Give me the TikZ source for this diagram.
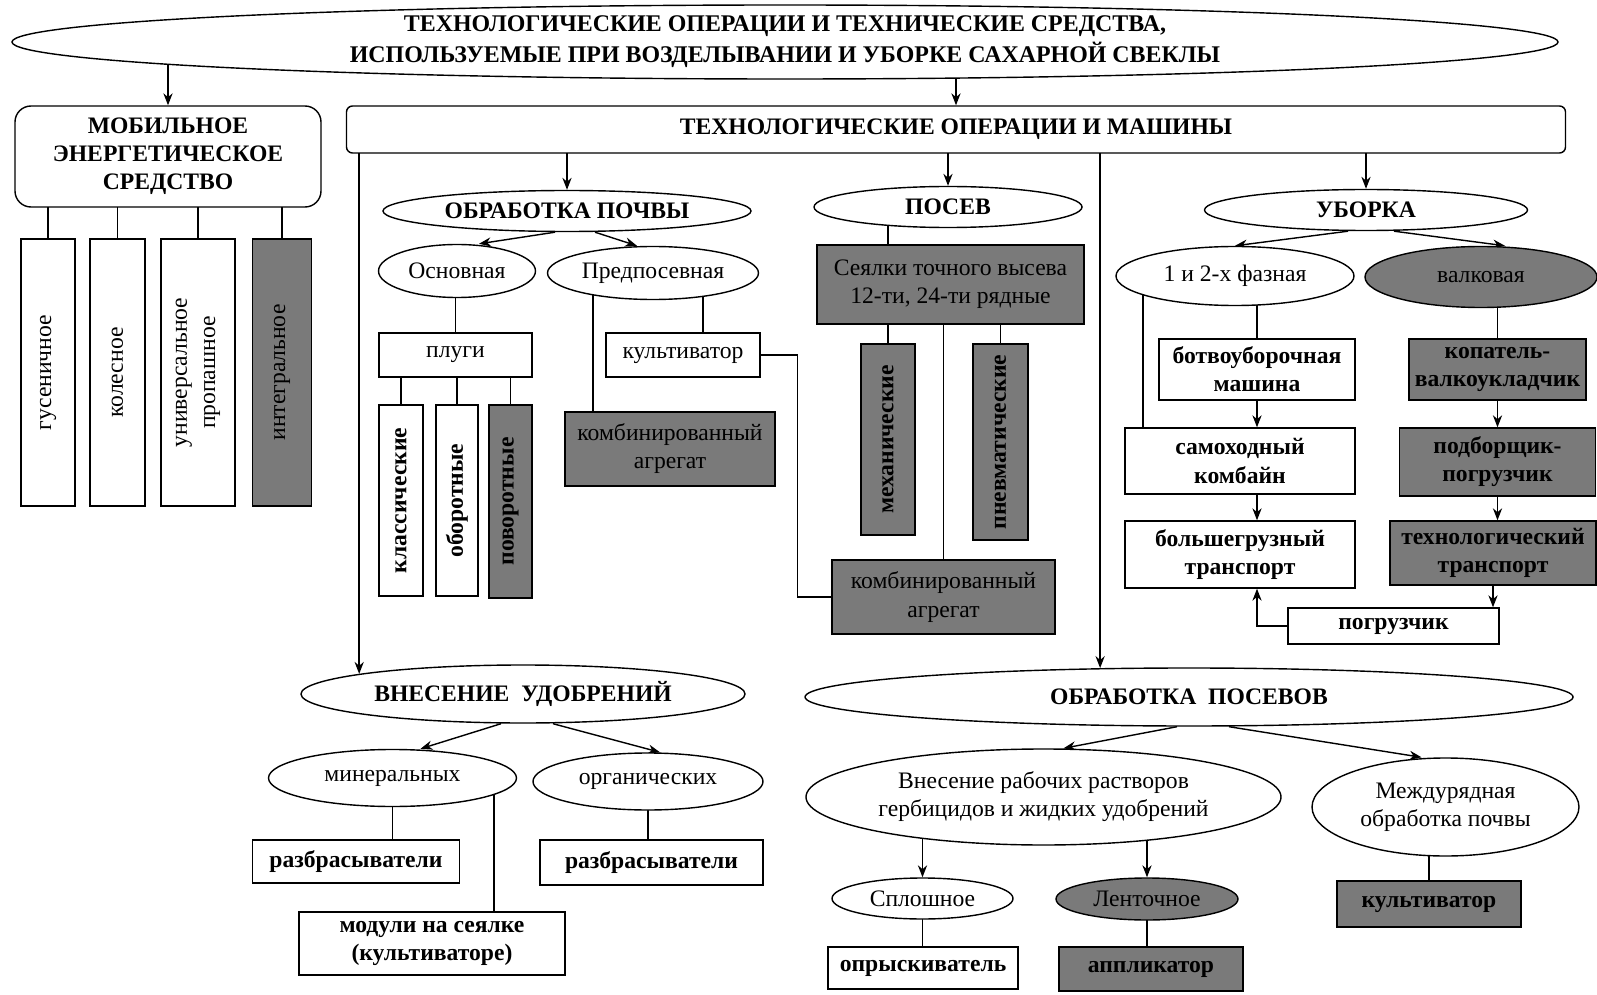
\documentclass[tikz,border=0pt]{standalone}
\usepackage{fontspec}
\setmainfont{Liberation Serif}
\usetikzlibrary{shapes.geometric,backgrounds,arrows.meta}
\definecolor{boxgray}{gray}{0.48}

\begin{document}
\begin{tikzpicture}[x=0.25mm,y=-0.25mm,>={Stealth[length=3mm,width=2.3mm]},
  every node/.style={font=\fontsize{16.8}{20}\selectfont,align=center,inner sep=0pt},
  sz/.style 2 args={minimum width=#1*0.25mm,minimum height=#2*0.25mm},
  box/.style={draw,line width=1pt,fill=white,rectangle},
  oval/.style={draw,line width=1pt,fill=white,ellipse},
  dark/.style={fill=boxgray},
  bf/.style={font=\fontsize{16.8}{20}\selectfont\bfseries},
  link/.style={draw,line width=1pt},
  arr/.style={link,->}]
  \useasboundingbox (0,0) rectangle (1597,995);

  % Title and the two main branches.
  \node[oval,sz={1546}{74},font=\fontsize{17}{22}\selectfont\bfseries] (top) at (785,42)
    {ТЕХНОЛОГИЧЕСКИЕ ОПЕРАЦИИ И ТЕХНИЧЕСКИЕ СРЕДСТВА,\\ИСПОЛЬЗУЕМЫЕ ПРИ ВОЗДЕЛЫВАНИИ И УБОРКЕ САХАРНОЙ СВЕКЛЫ};
  \node[box,bf,rounded corners=4mm,sz={306}{101}] (mes) at (168,156.5)
    {МОБИЛЬНОЕ\\ЭНЕРГЕТИЧЕСКОЕ\\СРЕДСТВО};
  \node[box,bf,rounded corners=1.5mm,sz={1219}{47}] (tom) at (956,129.5)
    {ТЕХНОЛОГИЧЕСКИЕ ОПЕРАЦИИ И МАШИНЫ};

  % Power units.
  \node[box,rotate=90,sz={267}{54}] (gus) at (48,372.5) {гусеничное};
  \node[box,rotate=90,sz={267}{55}] (kol) at (117.5,372.5) {колесное};
  \node[box,rotate=90,sz={267}{74}] (univ) at (198,372.5) {универсальное\\пропашное};
  \node[box,dark,rotate=90,sz={267}{59}] (integ) at (282,372.5) {интегральное};

  % Soil tillage.
  \node[oval,bf,sz={368}{41}] (op) at (567,211) {ОБРАБОТКА ПОЧВЫ};
  \node[oval,sz={157}{53}] (osn) at (457,271) {Основная};
  \node[oval,sz={211}{53}] (pred) at (653,273) {Предпосевная};
  \node[box,sz={153}{44}] (plugi) at (455.5,355) {плуги};
  \node[box,bf,rotate=90,sz={191}{44}] (klas) at (401,500.5) {классические};
  \node[box,bf,rotate=90,sz={191}{42}] (obor) at (457,500.5) {оборотные};
  \node[box,dark,bf,rotate=90,sz={193}{43}] (povor) at (510.5,501.5) {поворотные};
  \node[box,sz={154}{44}] (kult) at (683,355) {культиватор};
  \node[box,dark,sz={210}{74}] (komb1) at (670,449) {комбинированный\\агрегат};

  % Sowing.
  \node[oval,bf,sz={268}{41}] (posev) at (948,207) {ПОСЕВ};
  \node[box,dark,sz={267}{79}] (seed) at (950.5,284.5) {Сеялки точного высева\\12-ти, 24-ти рядные};
  \node[box,dark,bf,rotate=90,sz={191}{54}] (mech) at (888,439.5) {механические};
  \node[box,dark,bf,rotate=90,sz={196}{55}] (pnev) at (1000.5,442) {пневматические};
  \node[box,dark,sz={223}{74}] (komb2) at (943.5,597) {комбинированный\\агрегат};

  % Harvesting.
  \node[oval,bf,sz={323}{41}] (ub) at (1366,210) {УБОРКА};
  \node[oval,sz={238}{59}] (faz) at (1235,276) {1 и 2-х фазная};
  \node[oval,dark,sz={232}{61}] (val) at (1481,277) {валковая};
  \node[box,bf,sz={196}{61}] (botv) at (1257,369.5) {ботвоуборочная\\машина};
  \node[box,bf,sz={230}{66}] (samo) at (1240,461) {самоходный\\комбайн};
  \node[box,bf,sz={230}{67}] (bolsh) at (1240,554.5) {большегрузный\\транспорт};
  \node[box,bf,sz={211}{36}] (pogr) at (1393.5,626) {погрузчик};
  \node[box,dark,bf,sz={177}{61}] (kop) at (1497.5,369.5) {копатель-\\валкоукладчик};
  \node[box,dark,bf,sz={196}{68}] (podb) at (1497.5,462) {подборщик-\\погрузчик};
  \node[box,dark,bf,sz={206}{64}] (tech) at (1493,553) {технологический\\транспорт};

  % Fertilizing.
  \node[oval,bf,sz={444}{58}] (vu) at (523,694) {ВНЕСЕНИЕ\ \ УДОБРЕНИЙ};
  \node[oval,sz={248}{57}] (miner) at (392.5,778) {минеральных};
  \node[oval,sz={230}{57}] (organ) at (648,781.5) {органических};
  \node[box,bf,sz={207}{43}] (razb1) at (356,861.5) {разбрасыватели};
  \node[box,bf,sz={223}{45}] (razb2) at (651.5,862.5) {разбрасыватели};
  \node[box,bf,sz={266}{63}] (mod) at (432,943.5) {модули на сеялке\\(культиваторе)};

  % Crop care.
  \node[oval,bf,sz={768}{58}] (opos) at (1189,697) {ОБРАБОТКА\ \ ПОСЕВОВ};
  \node[oval,sz={475}{96}] (vnes) at (1043.5,797) {Внесение рабочих растворов\\гербицидов и жидких удобрений};
  \node[oval,sz={267}{98}] (mezh) at (1445.5,807) {Междурядная\\обработка почвы};
  \node[oval,sz={181}{41}] (spl) at (922.5,898.5) {Сплошное};
  \node[oval,dark,sz={182}{42}] (lent) at (1147,899) {Ленточное};
  \node[box,bf,sz={190}{42}] (opr) at (923,968) {опрыскиватель};
  \node[box,dark,bf,sz={184}{44}] (appl) at (1151,969) {аппликатор};
  \node[box,dark,bf,sz={184}{46}] (kult3) at (1429,904) {культиватор};

  \coordinate (k1) at ([xshift=-19.25mm]komb1.north);
  \coordinate (k2) at ([xshift=5mm]kult.north);
  \coordinate (s1) at ([xshift=-24.25mm]samo.north);
  \coordinate (m1) at ([xshift=15.5mm]mod.north);

  \begin{scope}[on background layer]
    \fill[white] (0,0) rectangle (1597,995);
    \draw[arr] (top.center -| mes.north) -- (mes.north);
    \draw[arr] (top.center -| tom.north) -- (tom.north);
    \foreach \n in {gus,kol,univ,integ} \draw[link] (mes.center -| \n) -- (\n.east);
    \draw[arr] (tom.center -| op.north) -- (op.north);
    \draw[arr] (tom.center -| posev.north) -- (posev.north);
    \draw[arr] (tom.center -| ub.north) -- (ub.north);
    \draw[arr] (tom.center -| vu.173) -- (vu.173);
    \draw[arr] (tom.center -| opos.162) -- (opos.162);
    % soil
    \draw[arr] ([xshift=-3mm]op.south) -- ([xshift=5.5mm]osn.north);
    \draw[arr] ([xshift=7mm]op.south) -- ([xshift=-4mm]pred.north);
    \draw[link] (osn.center -| plugi.north) -- (plugi.north);
    \foreach \n in {klas,obor,povor} \draw[link] (plugi.center -| \n) -- (\n.east);
    \draw[link] (pred.center -| k1) -- (k1);
    \draw[link] (pred.center -| k2) -- (k2);
    \draw[link] (kult.east) -- ([xshift=9.25mm]kult.east) |- (komb2.west);
    % sowing
    \draw[link] (posev.center -| mech) -- (seed.north -| mech);
    \draw[link] (seed.center -| mech) -- (mech.east);
    \draw[link] (seed.center -| pnev) -- (pnev.east);
    \draw[link] (seed.center -| komb2) -- (komb2.north);
    % harvest
    \draw[arr] ([xshift=-4.5mm]ub.south) -- (faz.north);
    \draw[arr] ([xshift=7mm]ub.south) -- ([xshift=6mm]val.north);
    \draw[link] (faz.center -| botv) -- (botv.north);
    \draw[link] (faz.center -| s1) -- (s1);
    \draw[arr] (botv.south) -- (botv.south |- samo.north);
    \draw[arr] (samo.south -| botv) -- (bolsh.north -| botv);
    \draw[arr] (pogr.west) -| (bolsh.south -| botv);
    \draw[link] (val.center -| kop) -- (kop.north);
    \draw[arr] (kop.south) -- (kop.south |- podb.north);
    \draw[arr] (podb.south) -- (podb.south |- tech.north);
    \draw[arr] (tech.south) -- (tech.south |- pogr.north);
    % fertilizing
    \draw[arr] ([xshift=-5.5mm]vu.south) -- ([xshift=7mm]miner.north);
    \draw[arr] ([xshift=7.5mm]vu.south) -- ([xshift=3mm]organ.north);
    \draw[link] (miner.center) -- (miner.center |- razb1.north);
    \draw[link] (miner.center -| m1) -- (m1);
    \draw[link] (organ.center) -- (organ.center |- razb2.north);
    % crop care
    \draw[arr] ([xshift=-3mm]opos.south) -- ([xshift=5mm]vnes.north);
    \draw[arr] ([xshift=10mm]opos.south) -- ([xshift=-6mm]mezh.north);
    \draw[arr] (vnes.center -| spl) -- (spl.north);
    \draw[arr] (vnes.center -| lent) -- (lent.north);
    \draw[link] (spl.center) -- (spl.center |- opr.north);
    \draw[link] (lent.center) -- (lent.center |- appl.north);
    \draw[link] (mezh.center -| kult3) -- (kult3.north);
  \end{scope}
\end{tikzpicture}
\end{document}
